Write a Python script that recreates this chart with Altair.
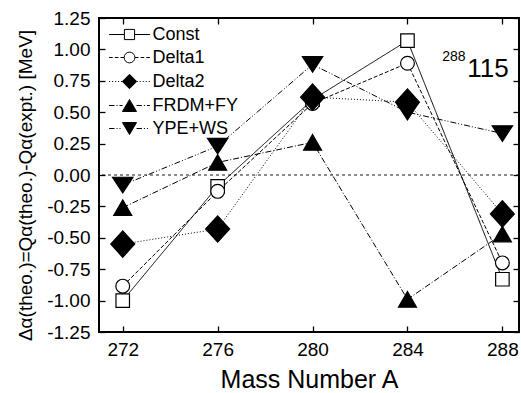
import altair as alt
import pandas as pd

# ---------------- data ----------------
mass_numbers = [272, 276, 280, 284, 288]
series_names = ["Const", "Delta1", "Delta2", "FRDM+FY", "YPE+WS"]
const_vals = [-1.00, -0.09, 0.60, 1.07, -0.83]
delta1_vals = [-0.885, -0.13, 0.57, 0.89, -0.70]
delta2_vals = [-0.55, -0.43, 0.62, 0.58, -0.31]
frdm_vals = [-0.26, 0.10, 0.26, -0.99, -0.47]
ype_vals = [-0.08, 0.23, 0.88, 0.50, 0.33]
y_ticks = [-1.25, -1.0, -0.75, -0.5, -0.25, 0.0, 0.25, 0.5, 0.75, 1.0, 1.25]
x_ticks = mass_numbers
nucleus_mass = "288"
nucleus_z = "115"

FONT = "Liberation Sans"

rows = []
for name, vals in zip(series_names, [const_vals, delta1_vals, delta2_vals, frdm_vals, ype_vals]):
    for a, v in zip(mass_numbers, vals):
        rows.append({"A": a, "v": v, "series": name})
df = pd.DataFrame(rows)

# ---------------- styles ----------------
dashes = [[1, 0], [4, 2], [1, 2], [6, 2, 1, 2], [6, 2, 1, 2, 1, 2]]
fills = ["white", "white", "black", "black", "black"]
strokes = ["black"] * 5

# marker paths (unit = sqrt(size)/2 px; size 144 -> 6 px per unit)
def circle_path(r):
    return f"M{-r},0A{r},{r},0,1,0,{r},0A{r},{r},0,1,0,{-r},0Z"

marker_paths = [
    "M-1.125,-1.125H1.125V1.125H-1.125Z",
    circle_path(1.15),
    "M-2,0L0,-2.2L2,0L0,2.2Z",
    "M0,-1.3L1.5,1.3L-1.5,1.3Z",
    "M0,1.3L1.7,-1.3L-1.7,-1.3Z",
]

# legend symbols: line + marker in a single custom path
def seg_path(pattern, x0, x1):
    parts = []
    x = x0
    i = 0
    while x < x1 - 1e-9:
        L = pattern[i % len(pattern)]
        if i % 2 == 0:
            parts.append(f"M{x:.3f},0H{min(x + L, x1):.3f}")
        x += L
        i += 1
    return "".join(parts)

leg_ext = 3.4
leg_patterns = [[100], [0.6, 0.35], [0.17, 0.33], [0.9, 0.33, 0.17, 0.33], [0.9, 0.33, 0.17, 0.33, 0.17, 0.33]]
leg_half = [0.85, 0.9, 1.2, 1.17, 1.17]
leg_markers = [
    "M-0.85,-0.85H0.85V0.85H-0.85Z",
    circle_path(0.9),
    "M-1.2,0L0,-1.2L1.2,0L0,1.2Z",
    "M0,-1.0L1.17,1.0L-1.17,1.0Z",
    "M0,1.0L1.17,-1.0L-1.17,-1.0Z",
]
leg_paths = []
for pat, h, mk in zip(leg_patterns, leg_half, leg_markers):
    leg_paths.append(seg_path(pat, -leg_ext, -h) + seg_path(pat, h, leg_ext) + mk)

xscale = alt.Scale(domain=[271, 288.7], nice=False, zero=False)
yscale = alt.Scale(domain=[-1.25, 1.25], nice=False, zero=False)


def tick_axis(orient, vals):
    return alt.Axis(orient=orient, values=vals, labels=False, domain=False, grid=False,
                    ticks=True, tickSize=6, tickWidth=1.3, tickColor="black", offset=-6, title=None)


x_label_axis = alt.Axis(orient="bottom", values=x_ticks, ticks=False, tickSize=0, domain=False, grid=False,
                        labelFont=FONT, labelFontSize=19, labelColor="black", labelBaseline="alphabetic",
                        labelPadding=23, labelFlush=False, labelOverlap=False,
                        title="Mass Number A", titleFont=FONT, titleFontSize=25, titleFontWeight="normal",
                        titleColor="black", titleBaseline="alphabetic", titleY=55)

y_label_axis = alt.Axis(orient="left", values=y_ticks, ticks=False, tickSize=0, domain=False, grid=False,
                        labelFont=FONT, labelFontSize=19, labelColor="black", labelPadding=9,
                        labelFlush=False, labelOverlap=False, labelBaseline="middle",
                        labelExpr="(datum.value < 0 ? '-' : '') + format(abs(datum.value), '.2f')",
                        title="Δα(theo.)=Qα(theo.)-Qα(expt.) [MeV]", titleFont=FONT, titleFontSize=19,
                        titleFontWeight="normal", titleColor="black", titleX=-74, titleY=167,
                        titleAlign="center", titleBaseline="middle", titleAngle=270)

base = alt.Chart(df)

zero = alt.Chart(pd.DataFrame({"z": [0.0]})).mark_rule(
    color="black", strokeWidth=0.9, strokeDash=[3, 3]
).encode(y=alt.Y("z:Q", scale=yscale, axis=None))

lines = base.mark_line(color="black", strokeWidth=1).encode(
    x=alt.X("A:Q", scale=xscale, axis=x_label_axis),
    y=alt.Y("v:Q", scale=yscale, axis=y_label_axis),
    strokeDash=alt.StrokeDash("series:N", scale=alt.Scale(domain=series_names, range=dashes), legend=None),
)

points = base.mark_point(stroke="black", strokeWidth=1.2, opacity=1, size=144).encode(
    x=alt.X("A:Q", scale=xscale, axis=tick_axis("top", x_ticks)),
    y=alt.Y("v:Q", scale=yscale, axis=tick_axis("right", y_ticks)),
    shape=alt.Shape("series:N", scale=alt.Scale(domain=series_names, range=marker_paths), legend=None),
    fill=alt.Fill("series:N", scale=alt.Scale(domain=series_names, range=fills), legend=None),
)

leg_def = alt.Legend(orient="none", legendX=21.5, legendY=7.5, title=None, labelFont=FONT,
                     labelFontSize=18, labelColor="black", symbolSize=144, symbolStrokeWidth=1,
                     symbolStrokeColor="black", labelOffset=14, rowPadding=5, padding=0,
                     offset=0, labelLimit=0)

leg = base.transform_filter("false").transform_calculate(leg="datum.series").mark_point(
    stroke="black", strokeWidth=1, opacity=1, size=144
).encode(
    x=alt.X("A:Q", scale=xscale, axis=tick_axis("bottom", x_ticks)),
    y=alt.Y("v:Q", scale=yscale, axis=tick_axis("left", y_ticks)),
    shape=alt.Shape("leg:N", scale=alt.Scale(domain=series_names, range=leg_paths), legend=leg_def),
    fill=alt.Fill("leg:N", scale=alt.Scale(domain=series_names, range=fills), legend=leg_def),
    stroke=alt.Stroke("leg:N", scale=alt.Scale(domain=series_names, range=strokes), legend=leg_def),
)

ann_mass = alt.Chart(pd.DataFrame({"t": [nucleus_mass]})).mark_text(
    font=FONT, fontSize=14, align="right", baseline="alphabetic", color="black"
).encode(x=alt.X(datum=286.45, scale=xscale, axis=None), y=alt.Y(datum=0.906, scale=yscale, axis=None), text="t:N")

ann_z = alt.Chart(pd.DataFrame({"t": [nucleus_z]})).mark_text(
    font=FONT, fontSize=26, align="left", baseline="alphabetic", color="black"
).encode(x=alt.X(datum=286.52, scale=xscale, axis=None), y=alt.Y(datum=0.78, scale=yscale, axis=None), text="t:N")

chart = alt.layer(zero, lines, points, ann_mass, ann_z, leg).resolve_axis(
    x="independent", y="independent"
).resolve_scale(shape="independent", fill="independent", stroke="independent").properties(
    width=420, height=314,
    autosize=alt.AutoSizeParams(type="none"),
    padding={"left": 99, "top": 18, "right": 2, "bottom": 61},
    background="white",
).configure_view(stroke="black", strokeWidth=2)

chart.save("out.html", embed_options={"renderer": "svg", "actions": False})
